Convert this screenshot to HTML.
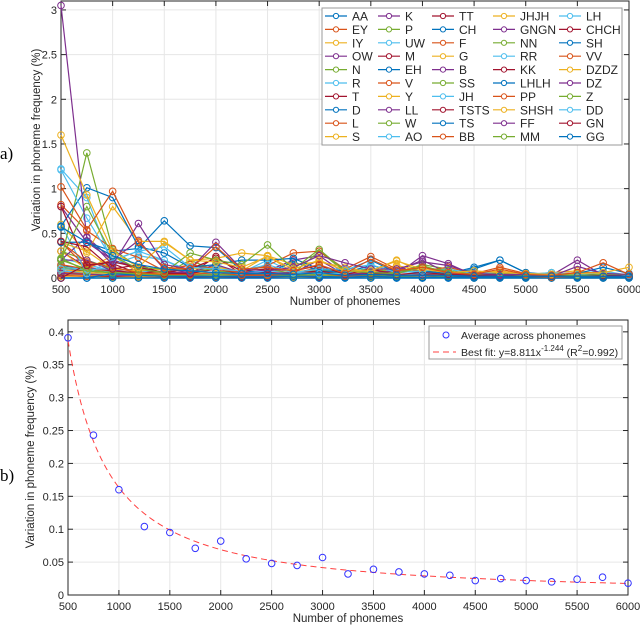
<!DOCTYPE html>
<html><head><meta charset="utf-8"><style>
html,body{margin:0;padding:0;background:#fff;width:640px;height:626px;overflow:hidden}
svg{display:block;font-family:"Liberation Sans",Arial,sans-serif}
</style></head><body>
<svg id="fig" width="640" height="626" viewBox="0 0 640 626" xmlns="http://www.w3.org/2000/svg">
<text x="0" y="159" font-family="Liberation Serif,serif" font-size="17">a)</text>
<text x="0" y="481" font-family="Liberation Serif,serif" font-size="17">b)</text>
<g id="top"></g>
<g id="bot"></g>
</svg>
<script>
const xCats=[500,750,1000,1250,1500,1750,2000,2250,2500,2750,3000,3250,3500,3750,4000,4250,4500,4750,5000,5250,5500,5750,6000];
const xTickLabels=[500,1000,1500,2000,2500,3000,3500,4000,4500,5000,5500,6000];
const topYTicks=[0,0.5,1,1.5,2,2.5,3];
const botYTicks=[0,0.05,0.1,0.15,0.2,0.25,0.3,0.35,0.4];
const seriesNames=["AA","EY","IY","OW","N","R","T","D","L","S","K","P","UW","M","EH","V","Y","LL","W","AO","TT","CH","F","G","B","SS","JH","TSTS","TS","BB","JHJH","GNGN","NN","RR","KK","LHLH","PP","SHSH","FF","MM","LH","CHCH","SH","VV","DZDZ","DZ","Z","DD","GN","GG"];
const s_AA=[0.57,0.40,0.25,0.15,0.10,0.08,0.06,0.05,0.05,0.04,0.06,0.03,0.04,0.03,0.03,0.03,0.02,0.02,0.02,0.02,0.02,0.02,0.02];
const s_EY=[1.02,0.54,0.97,0.40,0.12,0.10,0.35,0.10,0.12,0.08,0.15,0.05,0.21,0.08,0.12,0.06,0.04,0.10,0.04,0.03,0.06,0.17,0.04];
const s_IY=[1.60,0.93,0.30,0.12,0.40,0.20,0.18,0.12,0.24,0.10,0.20,0.08,0.08,0.19,0.10,0.06,0.08,0.06,0.05,0.04,0.05,0.06,0.12];
const s_OW=[3.05,0.45,0.15,0.61,0.15,0.10,0.40,0.10,0.08,0.12,0.25,0.17,0.10,0.10,0.18,0.14,0.05,0.04,0.04,0.02,0.13,0.05,0.04];
const s_N=[0.21,0.80,0.25,0.10,0.06,0.28,0.20,0.15,0.37,0.10,0.32,0.08,0.06,0.05,0.12,0.08,0.04,0.05,0.03,0.04,0.03,0.04,0.04];
const s_R=[1.21,0.67,0.20,0.30,0.35,0.12,0.10,0.08,0.15,0.06,0.10,0.10,0.15,0.06,0.08,0.10,0.05,0.06,0.04,0.06,0.04,0.06,0.03];
const s_T=[0.80,0.14,0.18,0.12,0.06,0.10,0.22,0.08,0.10,0.08,0.14,0.04,0.10,0.04,0.06,0.04,0.03,0.04,0.03,0.02,0.04,0.03,0.02];
const s_D=[0.58,1.01,0.90,0.35,0.28,0.12,0.15,0.20,0.20,0.22,0.10,0.08,0.20,0.06,0.08,0.05,0.12,0.20,0.06,0.03,0.05,0.12,0.05];
const s_L=[0.82,0.53,0.33,0.23,0.08,0.15,0.10,0.06,0.14,0.28,0.30,0.10,0.24,0.10,0.08,0.12,0.05,0.12,0.05,0.04,0.06,0.06,0.03];
const s_S=[0.60,0.28,0.80,0.41,0.41,0.20,0.22,0.28,0.25,0.15,0.18,0.12,0.06,0.14,0.08,0.06,0.05,0.08,0.04,0.06,0.08,0.04,0.04];
const s_K=[0.80,0.40,0.20,0.42,0.10,0.06,0.15,0.06,0.05,0.06,0.20,0.04,0.06,0.08,0.20,0.05,0.03,0.03,0.03,0.03,0.06,0.03,0.03];
const s_P=[0.20,1.40,0.32,0.12,0.10,0.08,0.10,0.08,0.10,0.05,0.30,0.07,0.10,0.06,0.15,0.10,0.03,0.03,0.03,0.02,0.03,0.04,0.03];
const s_UW=[1.22,0.90,0.15,0.25,0.20,0.08,0.06,0.05,0.08,0.06,0.05,0.05,0.12,0.04,0.05,0.05,0.03,0.05,0.03,0.06,0.03,0.05,0.03];
const s_M=[0.41,0.35,0.10,0.15,0.05,0.05,0.10,0.05,0.06,0.05,0.08,0.03,0.05,0.03,0.04,0.03,0.02,0.03,0.02,0.02,0.03,0.02,0.02];
const s_EH=[0.40,0.40,0.30,0.33,0.64,0.36,0.34,0.08,0.06,0.18,0.08,0.06,0.14,0.08,0.06,0.05,0.10,0.20,0.06,0.04,0.06,0.05,0.04];
const s_V=[0.40,0.18,0.12,0.06,0.04,0.04,0.06,0.03,0.03,0.05,0.06,0.02,0.04,0.03,0.03,0.03,0.02,0.03,0.02,0.01,0.02,0.02,0.02];
const s_Y=[0.40,0.30,0.10,0.08,0.10,0.10,0.12,0.08,0.25,0.06,0.06,0.04,0.08,0.20,0.06,0.04,0.04,0.06,0.04,0.03,0.04,0.04,0.04];
const s_LL=[0.20,0.46,0.20,0.12,0.06,0.06,0.10,0.06,0.08,0.20,0.25,0.05,0.06,0.04,0.25,0.16,0.03,0.04,0.03,0.03,0.20,0.03,0.03];
const s_W=[0.22,0.08,0.06,0.05,0.04,0.20,0.08,0.05,0.05,0.04,0.10,0.04,0.06,0.06,0.14,0.05,0.03,0.04,0.03,0.02,0.03,0.03,0.03];
const s_AO=[0.60,0.05,0.20,0.30,0.20,0.06,0.14,0.06,0.20,0.06,0.10,0.05,0.05,0.10,0.05,0.10,0.04,0.05,0.03,0.03,0.05,0.08,0.03];
const s_TT=[0.00,0.15,0.16,0.05,0.08,0.04,0.24,0.04,0.05,0.04,0.06,0.03,0.04,0.03,0.03,0.03,0.02,0.02,0.02,0.02,0.02,0.02,0.02];
const s_CH=[0.00,0.00,0.05,0.03,0.02,0.02,0.02,0.02,0.02,0.02,0.02,0.01,0.02,0.01,0.01,0.01,0.01,0.01,0.01,0.01,0.01,0.01,0.01];
const s_F=[0.40,0.12,0.20,0.10,0.06,0.15,0.08,0.05,0.06,0.05,0.12,0.04,0.05,0.04,0.05,0.04,0.02,0.04,0.02,0.02,0.03,0.03,0.02];
const s_G=[0.30,0.10,0.25,0.06,0.05,0.05,0.06,0.06,0.04,0.08,0.08,0.04,0.05,0.12,0.04,0.04,0.03,0.03,0.03,0.03,0.03,0.03,0.03];
const s_B=[0.20,0.20,0.08,0.10,0.05,0.05,0.06,0.05,0.04,0.04,0.10,0.03,0.04,0.03,0.04,0.03,0.02,0.03,0.02,0.02,0.03,0.02,0.02];
const s_SS=[0.20,0.10,0.05,0.04,0.03,0.03,0.04,0.03,0.03,0.03,0.04,0.02,0.03,0.02,0.03,0.02,0.02,0.02,0.02,0.01,0.02,0.02,0.02];
const s_JH=[0.10,0.10,0.10,0.08,0.05,0.04,0.05,0.04,0.04,0.04,0.05,0.03,0.04,0.03,0.03,0.03,0.02,0.02,0.02,0.02,0.02,0.02,0.02];
const s_TSTS=[0.30,0.12,0.08,0.06,0.04,0.04,0.06,0.04,0.04,0.03,0.05,0.03,0.03,0.03,0.03,0.02,0.02,0.02,0.02,0.02,0.02,0.02,0.02];
const s_TS=[0.00,0.00,0.00,0.00,0.00,0.00,0.00,0.00,0.00,0.00,0.00,0.00,0.00,0.00,0.00,0.00,0.00,0.00,0.00,0.00,0.00,0.00,0.00];
const s_BB=[0.15,0.10,0.08,0.05,0.04,0.03,0.05,0.03,0.03,0.03,0.04,0.02,0.03,0.02,0.03,0.02,0.02,0.02,0.02,0.01,0.02,0.02,0.02];
const s_JHJH=[0.10,0.06,0.05,0.04,0.03,0.03,0.03,0.03,0.03,0.02,0.03,0.02,0.02,0.02,0.02,0.02,0.01,0.02,0.01,0.01,0.02,0.01,0.01];
const s_GNGN=[0.05,0.04,0.03,0.03,0.02,0.02,0.02,0.02,0.02,0.02,0.02,0.01,0.02,0.01,0.01,0.01,0.01,0.01,0.01,0.01,0.01,0.01,0.01];
const s_NN=[0.12,0.08,0.06,0.04,0.03,0.03,0.03,0.03,0.02,0.02,0.03,0.02,0.02,0.02,0.02,0.02,0.01,0.02,0.01,0.01,0.01,0.01,0.01];
const s_RR=[0.08,0.06,0.04,0.03,0.03,0.02,0.03,0.02,0.02,0.02,0.02,0.02,0.02,0.02,0.02,0.01,0.01,0.01,0.01,0.01,0.01,0.01,0.01];
const s_KK=[0.10,0.08,0.05,0.04,0.03,0.03,0.03,0.03,0.02,0.02,0.03,0.02,0.02,0.02,0.02,0.02,0.01,0.01,0.01,0.01,0.01,0.01,0.01];
const s_LHLH=[0.00,0.00,0.00,0.00,0.00,0.00,0.00,0.00,0.00,0.00,0.00,0.00,0.00,0.00,0.00,0.00,0.00,0.00,0.00,0.00,0.00,0.00,0.00];
const s_PP=[0.06,0.05,0.04,0.03,0.02,0.02,0.02,0.02,0.02,0.02,0.02,0.01,0.02,0.01,0.01,0.01,0.01,0.01,0.01,0.01,0.01,0.01,0.01];
const s_SHSH=[0.04,0.03,0.03,0.02,0.02,0.02,0.02,0.02,0.02,0.01,0.02,0.01,0.01,0.01,0.01,0.01,0.01,0.01,0.01,0.01,0.01,0.01,0.01];
const s_FF=[0.05,0.04,0.03,0.02,0.02,0.02,0.02,0.02,0.02,0.02,0.02,0.01,0.01,0.01,0.01,0.01,0.01,0.01,0.01,0.01,0.01,0.01,0.01];
const s_MM=[0.06,0.05,0.04,0.03,0.02,0.02,0.02,0.02,0.02,0.02,0.02,0.01,0.02,0.01,0.01,0.01,0.01,0.01,0.01,0.01,0.01,0.01,0.01];
const s_LH=[0.12,0.10,0.07,0.05,0.04,0.03,0.04,0.03,0.03,0.03,0.03,0.02,0.03,0.02,0.02,0.02,0.02,0.02,0.02,0.02,0.02,0.02,0.02];
const s_CHCH=[0.04,0.03,0.02,0.02,0.02,0.01,0.02,0.01,0.01,0.01,0.01,0.01,0.01,0.01,0.01,0.01,0.01,0.01,0.01,0.01,0.01,0.01,0.01];
const s_SH=[0.14,0.10,0.06,0.05,0.04,0.03,0.04,0.03,0.03,0.03,0.03,0.02,0.02,0.02,0.02,0.02,0.02,0.02,0.02,0.01,0.02,0.02,0.01];
const s_VV=[0.03,0.02,0.02,0.02,0.01,0.01,0.01,0.01,0.01,0.01,0.01,0.01,0.01,0.01,0.01,0.01,0.01,0.01,0.01,0.01,0.01,0.01,0.01];
const s_DZDZ=[0.02,0.02,0.01,0.01,0.01,0.01,0.01,0.01,0.01,0.01,0.01,0.01,0.01,0.01,0.01,0.01,0.00,0.00,0.00,0.00,0.00,0.00,0.00];
const s_DZ=[0.08,0.06,0.04,0.03,0.03,0.02,0.03,0.02,0.02,0.02,0.02,0.02,0.02,0.02,0.02,0.01,0.01,0.01,0.01,0.01,0.01,0.01,0.01];
const s_Z=[0.30,0.20,0.10,0.08,0.06,0.05,0.06,0.04,0.05,0.04,0.05,0.03,0.04,0.03,0.03,0.03,0.02,0.03,0.02,0.02,0.02,0.02,0.02];
const s_DD=[0.22,0.15,0.08,0.06,0.05,0.04,0.05,0.04,0.04,0.03,0.04,0.03,0.03,0.03,0.03,0.02,0.02,0.02,0.02,0.02,0.02,0.02,0.02];
const s_GN=[0.03,0.02,0.02,0.01,0.01,0.01,0.01,0.01,0.01,0.01,0.01,0.01,0.01,0.01,0.01,0.01,0.01,0.01,0.01,0.01,0.01,0.01,0.01];
const s_GG=[0.00,0.00,0.00,0.00,0.00,0.00,0.00,0.00,0.00,0.00,0.00,0.00,0.00,0.00,0.00,0.00,0.00,0.00,0.00,0.00,0.00,0.00,0.00];
const seriesValues=[s_AA,s_EY,s_IY,s_OW,s_N,s_R,s_T,s_D,s_L,s_S,s_K,s_P,s_UW,s_M,s_EH,s_V,s_Y,s_LL,s_W,s_AO,s_TT,s_CH,s_F,s_G,s_B,s_SS,s_JH,s_TSTS,s_TS,s_BB,s_JHJH,s_GNGN,s_NN,s_RR,s_KK,s_LHLH,s_PP,s_SHSH,s_FF,s_MM,s_LH,s_CHCH,s_SH,s_VV,s_DZDZ,s_DZ,s_Z,s_DD,s_GN,s_GG];
const avgValues=[0.391,0.243,0.160,0.104,0.095,0.071,0.082,0.055,0.048,0.045,0.057,0.032,0.039,0.035,0.032,0.030,0.022,0.025,0.022,0.020,0.024,0.027,0.018];
const fitA=8.811, fitB=-1.244, fitScale=100;

const NS="http://www.w3.org/2000/svg";
const colors=["#0072BD","#D95319","#EDB120","#7E2F8E","#77AC30","#4DBEEE","#A2142F"];
function mk(parent,tag,attrs,text){const e=document.createElementNS(NS,tag);for(const k in attrs)e.setAttribute(k,attrs[k]);if(text!==undefined)e.textContent=text;parent.appendChild(e);return e;}

function axes(g,L,R,T,B,xmin,xmax,ymin,ymax,yTicks,yFmt){
  const sx=v=>L+(v-xmin)/(xmax-xmin)*(R-L);
  const sy=v=>B-(v-ymin)/(ymax-ymin)*(B-T);
  const grid=mk(g,"g",{});
  
  
  xTickLabels.forEach(v=>{mk(grid,"line",{x1:sx(v),x2:sx(v),y1:T,y2:B,stroke:"#e6e6e6","stroke-width":1});});
  yTicks.forEach(v=>{mk(grid,"line",{x1:L,x2:R,y1:sy(v),y2:sy(v),stroke:"#e6e6e6","stroke-width":1});});
  const xa=mk(g,"g",{});
  
  
  xTickLabels.forEach(v=>{
    mk(xa,"line",{x1:sx(v),x2:sx(v),y1:B,y2:B-5,stroke:"#262626"});
    mk(xa,"line",{x1:sx(v),x2:sx(v),y1:T,y2:T+5,stroke:"#262626"});
    const t=mk(xa,"text",{x:sx(v),y:B+15,"text-anchor":"middle","font-size":11,fill:"#262626"},String(v));
    
    
  });
  const ya=mk(g,"g",{});
  
  
  yTicks.forEach(v=>{
    mk(ya,"line",{x1:L,x2:L+5,y1:sy(v),y2:sy(v),stroke:"#262626"});
    mk(ya,"line",{x1:R,x2:R-5,y1:sy(v),y2:sy(v),stroke:"#262626"});
    const t=mk(ya,"text",{x:L-4,y:sy(v)+4,"text-anchor":"end","font-size":11,fill:"#262626"},yFmt(v));
    
    
  });
  mk(g,"rect",{x:L,y:T,width:R-L,height:B-T,fill:"none",stroke:"#262626","stroke-width":1});
  return {sx,sy};
}

// Top chart
(function(){
  const g=document.getElementById("top");
  const L=61,R=629,T=1,B=278;
  const {sx,sy}=axes(g,L,R,T,B,500,6000,0,3.1,topYTicks,v=>String(v));
  for(let i=seriesValues.length-1;i>=0;i--){
    const vals=seriesValues[i];const c=colors[i%7];
    const sg=mk(g,"g",{});
    
    
    mk(sg,"polyline",{points:vals.map((v,j)=>sx(xCats[j])+","+sy(v)).join(" "),fill:"none",stroke:c,"stroke-width":1.2});
    vals.forEach((v,j)=>{mk(sg,"circle",{cx:sx(xCats[j]),cy:sy(v),r:3.3,fill:"none",stroke:c,"stroke-width":1});});
  }
  const yt=mk(g,"text",{x:0,y:0,transform:"translate(40,140) rotate(-90)","text-anchor":"middle","font-size":11.5,fill:"#262626"},"Variation in phoneme frequency (%)");
  
  
  const xt=mk(g,"text",{x:345,y:305,"text-anchor":"middle","font-size":11.5,fill:"#262626"},"Number of phonemes");
  
  
  // legend
  const lg=mk(g,"g",{});
  
  
  mk(lg,"rect",{x:322,y:8,width:300,height:137,fill:"#fff",stroke:"#999","stroke-width":1});
  const colX=[325,378,432,493,559];
  seriesNames.forEach((n,i)=>{
    const col=Math.floor(i/10),row=i%10;const c=colors[i%7];
    const x=colX[col],y=16+row*13.4;
    const e=mk(lg,"g",{});
    
    
    mk(e,"line",{x1:x,x2:x+22,y1:y,y2:y,stroke:c,"stroke-width":1.2});
    mk(e,"circle",{cx:x+11,cy:y,r:2.6,fill:"#fff",stroke:c,"stroke-width":1});
    mk(e,"text",{x:x+27,y:y+4.5,"font-size":12,fill:"#262626"},n);
  });
})();

// Bottom chart
(function(){
  const g=document.getElementById("bot");
  const L=68,R=628,T=320,B=595;
  const {sx,sy}=axes(g,L,R,T,B,500,6000,0,0.418,botYTicks,v=>String(+v.toFixed(2)));
  const pts=[];
  for(let x=500;x<=6000;x+=25){pts.push(sx(x)+","+sy(fitScale*fitA*Math.pow(x,fitB)));}
  const fl=mk(g,"polyline",{points:pts.join(" "),fill:"none",stroke:"#ff4040","stroke-width":1,"stroke-dasharray":"6,4"});
  
  
  avgValues.forEach((v,j)=>{
    const c=mk(g,"circle",{cx:sx(xCats[j]),cy:sy(v),r:3.3,fill:"none",stroke:"#3333ff","stroke-width":1});
    
    
  });
  const yt=mk(g,"text",{x:0,y:0,transform:"translate(34,457) rotate(-90)","text-anchor":"middle","font-size":11.5,fill:"#262626"},"Variation in phoneme frequency (%)");
  
  
  const xt=mk(g,"text",{x:348,y:622,"text-anchor":"middle","font-size":11.5,fill:"#262626"},"Number of phonemes");
  
  
  const lg=mk(g,"g",{});
  
  
  mk(lg,"rect",{x:429,y:326,width:193,height:33,fill:"#fff",stroke:"#999"});
  mk(lg,"circle",{cx:446,cy:335,r:3,fill:"none",stroke:"#3333ff"});
  mk(lg,"text",{x:461,y:339,"font-size":10.5,fill:"#262626"},"Average across phonemes");
  mk(lg,"line",{x1:433,x2:456,y1:352,y2:352,stroke:"#ff4040","stroke-dasharray":"6,4"});
  const t=mk(lg,"text",{x:461,y:356,"font-size":10.5,fill:"#262626"},"Best fit: y=8.811x");
  mk(t,"tspan",{dy:-5,"font-size":8},"-1.244");
  mk(t,"tspan",{dy:5}," (R");
  mk(t,"tspan",{dy:-5,"font-size":8},"2");
  mk(t,"tspan",{dy:5},"=0.992)");
})();
</script>
</body></html>
